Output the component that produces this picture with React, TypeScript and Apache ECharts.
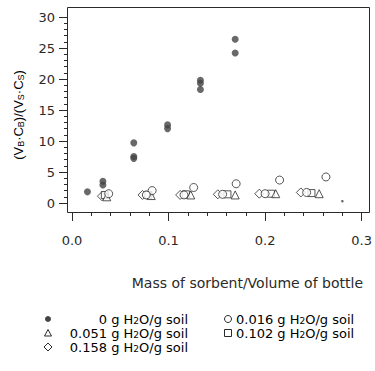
import React, { useEffect, useRef } from "react";
import * as echarts from "echarts";

// x = mass of sorbent / volume of bottle, y = (VB·CB)/(VS·CS)
const dry0: number[][] = [
  [0.016, 1.8], [0.032, 3.5], [0.032, 2.9], [0.064, 9.7], [0.064, 7.5], [0.064, 7.2],
  [0.099, 12.6], [0.099, 12.0], [0.133, 19.8], [0.133, 19.3], [0.133, 18.3],
  [0.169, 26.4], [0.169, 24.2],
];
const stray: number[][] = [[0.28, 0.3]];
const wet016: number[][] = [
  [0.038, 1.5], [0.083, 2.0], [0.126, 2.5], [0.170, 3.1], [0.215, 3.7], [0.263, 4.2],
  [0.077, 1.3], [0.116, 1.3], [0.156, 1.4], [0.200, 1.5], [0.243, 1.7],
];
const wet051: number[][] = [
  [0.036, 1.0], [0.082, 1.2], [0.123, 1.3], [0.169, 1.3], [0.211, 1.5], [0.256, 1.5],
];
const wet102: number[][] = [
  [0.034, 1.3], [0.079, 1.3], [0.118, 1.4], [0.161, 1.4], [0.206, 1.5], [0.248, 1.6],
];
const wet158: number[][] = [
  [0.031, 1.1], [0.073, 1.3], [0.112, 1.3], [0.151, 1.4], [0.194, 1.5], [0.237, 1.7],
];
const legendLabels = ["0", "0.016", "0.051", "0.102", "0.158"];

const FONT = "'Liberation Sans', Arial, sans-serif";
const WIDE = "'DejaVu Sans', sans-serif";
const INK = "#2a2a2a";

export default function App() {
  const ref = useRef<HTMLDivElement>(null);
  useEffect(() => {
    if (!ref.current) return;
    const chart = echarts.init(ref.current, undefined, { renderer: "svg" });
    const yRich = {
      b: { fontSize: 13, fontFamily: FONT, color: INK, lineHeight: 14 },
      s: { fontSize: 9, fontFamily: FONT, color: INK, lineHeight: 8, verticalAlign: "bottom" as const },
    };
    const legRich = {
      b: { fontSize: 13, fontFamily: WIDE, color: INK, lineHeight: 12 },
      s: { fontSize: 9, fontFamily: WIDE, color: INK, lineHeight: 6, verticalAlign: "bottom" as const },
    };
    const legText = (v: string) => `{b|${v} g H}{s|2}{b|O/g soil}`;
    const openStyle = { color: "#fff", borderColor: INK, borderWidth: 1 };
    chart.setOption({
      animation: false,
      grid: { left: 72, right: 8, top: 17, bottom: 168 },
      xAxis: {
        type: "value", min: 0, max: 0.3, interval: 0.1, offset: 9,
        axisLine: { show: true, onZero: false, lineStyle: { color: INK } },
        axisTick: { show: true, length: 9, lineStyle: { color: INK } },
        minorTick: { show: true, splitNumber: 5, length: 4, lineStyle: { color: INK } },
        splitLine: { show: false },
        axisLabel: { margin: 22, fontSize: 13, fontFamily: WIDE, color: INK, formatter: (v: number) => v.toFixed(1) },
      },
      yAxis: {
        type: "value", min: 0, max: 30, interval: 5, offset: 5,
        axisLine: { show: true, onZero: false, lineStyle: { color: INK } },
        axisTick: { show: true, length: 8, lineStyle: { color: INK } },
        minorTick: { show: true, splitNumber: 5, length: 3, lineStyle: { color: INK } },
        splitLine: { show: false },
        axisLabel: { margin: 12, fontSize: 13, fontFamily: WIDE, color: INK },
      },
      series: [
        { type: "scatter", name: "0", data: dry0, symbol: "circle", symbolSize: 7, itemStyle: { color: "#444" } },
        { type: "scatter", name: "stray", data: stray, symbol: "circle", symbolSize: 2.5, itemStyle: { color: "#444" } },
        { type: "scatter", name: "0.158", data: wet158, symbol: "diamond", symbolSize: 9, itemStyle: openStyle },
        { type: "scatter", name: "0.102", data: wet102, symbol: "rect", symbolSize: 7, itemStyle: openStyle },
        { type: "scatter", name: "0.051", data: wet051, symbol: "triangle", symbolSize: 8, itemStyle: openStyle },
        { type: "scatter", name: "0.016", data: wet016, symbol: "circle", symbolSize: 8, itemStyle: openStyle },
      ],
      graphic: [
        { type: "rect", shape: { x: 67.5, y: 7.5, width: 302, height: 205 }, style: { fill: "transparent", stroke: INK, lineWidth: 1 }, z: 10 },
        {
          type: "text", x: 18, y: 115, rotation: Math.PI / 2,
          style: {
            text: "{b|(V}{s|B}{b|·C}{s|B}{b|)/(V}{s|S}{b|·C}{s|S}{b|)}",
            rich: yRich, align: "center", verticalAlign: "middle",
          },
        },
        {
          type: "text", x: 363, y: 283,
          style: { text: "Mass of sorbent/Volume of bottle", font: `14px ${WIDE}`, fill: INK, align: "right", verticalAlign: "middle" },
        },
        { type: "circle", shape: { cx: 48, cy: 319, r: 3 }, style: { fill: "#444" } },
        { type: "text", x: 188, y: 319, style: { text: legText(legendLabels[0]), rich: legRich, align: "right", verticalAlign: "middle" } },
        { type: "circle", shape: { cx: 228, cy: 319, r: 3.5 }, style: { fill: "#fff", stroke: INK, lineWidth: 1 } },
        { type: "text", x: 236, y: 319, style: { text: legText(legendLabels[1]), rich: legRich, align: "left", verticalAlign: "middle" } },
        { type: "polygon", shape: { points: [[48, 329.5], [44.5, 336], [51.5, 336]] }, style: { fill: "#fff", stroke: INK, lineWidth: 1 } },
        { type: "text", x: 188, y: 333, style: { text: legText(legendLabels[2]), rich: legRich, align: "right", verticalAlign: "middle" } },
        { type: "rect", shape: { x: 224.5, y: 329.5, width: 7, height: 7 }, style: { fill: "#fff", stroke: INK, lineWidth: 1 } },
        { type: "text", x: 236, y: 333, style: { text: legText(legendLabels[3]), rich: legRich, align: "left", verticalAlign: "middle" } },
        { type: "polygon", shape: { points: [[48, 343], [52, 347], [48, 351], [44, 347]] }, style: { fill: "#fff", stroke: INK, lineWidth: 1 } },
        { type: "text", x: 188, y: 347, style: { text: legText(legendLabels[4]), rich: legRich, align: "right", verticalAlign: "middle" } },
      ],
    });
    return () => chart.dispose();
  }, []);
  return <div ref={ref} style={{ width: 375, height: 371, position: "absolute", left: 0, top: 0, background: "#fff" }} />;
}
